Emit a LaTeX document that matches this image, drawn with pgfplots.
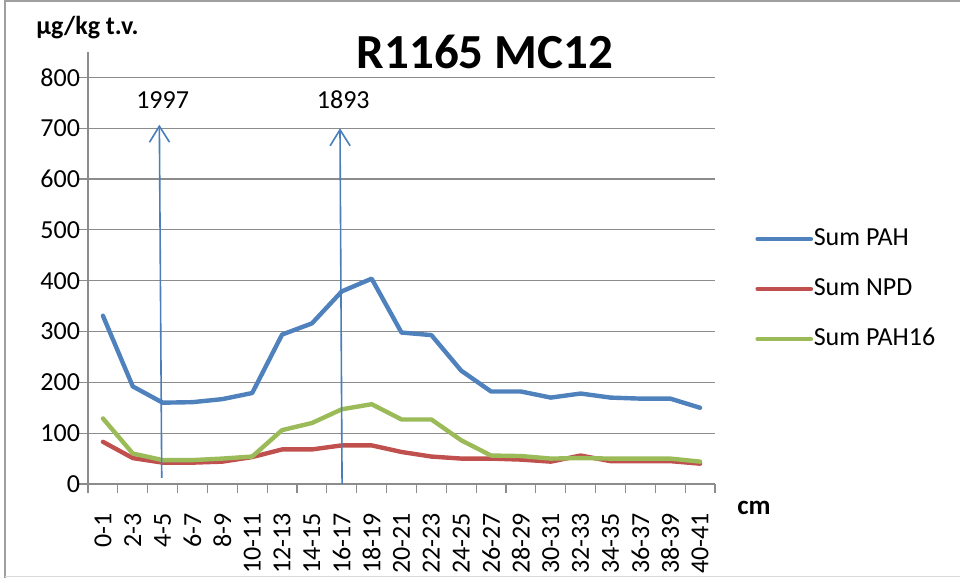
\documentclass[border=0pt]{standalone}
\usepackage{pgfplots}
\pgfplotsset{compat=1.18}
\usetikzlibrary{arrows.meta}
\usepackage{fontspec}
\setmainfont{Carlito}
\definecolor{cblue}{HTML}{4F81BD}
\definecolor{cred}{HTML}{C0504D}
\definecolor{cgreen}{HTML}{9BBB59}
\definecolor{carrow}{HTML}{4A7EBB}
\definecolor{cgrid}{HTML}{8C8C8C}
\begin{document}
\begin{tikzpicture}[x=1pt,y=1pt]
\useasboundingbox (-44,-47) rectangle (436,242);
\draw[color=gray!75, line width=1pt] (-41.5,-47) -- (-41.5,241.5) -- (436,241.5);
\draw[color=gray!30, line width=0.5pt] (-41.5,-46.3) -- (436,-46.3);
\begin{axis}[
  at={(0,0)}, anchor=south west, scale only axis,
  width=313.5pt, height=216pt,
  xmin=-0.5, xmax=20.5, ymin=0, ymax=850,
  axis x line*=bottom, axis y line*=left,
  axis line style={-, draw=cgrid, line width=0.6pt},
  ytick={0,100,...,800},
  ymajorgrids, grid style={draw=cgrid, line width=0.6pt},
  xtick={0,...,20},
  xticklabels={0-1,2-3,4-5,6-7,8-9,10-11,12-13,14-15,16-17,18-19,20-21,22-23,24-25,26-27,28-29,30-31,32-33,34-35,36-37,38-39,40-41},
  minor xtick={-0.5,0.5,...,20.5},
  major x tick style={draw=none},
  tick style={draw=cgrid, line width=0.6pt},
  tick align=outside,
  major tick length=4.5pt, minor tick length=4.5pt,
  ticklabel style={font=\fontsize{13}{15}\selectfont},
  xticklabel style={rotate=90, anchor=east, xshift=-6.5pt},
  yticklabel style={xshift=4pt},
  /pgf/number format/assume math mode=true,
  legend style={at={(1.0638,0.4514)}, anchor=west, draw=none, fill=none,
    inner sep=0pt, row sep=13pt,
    font=\fontsize{13}{15}\selectfont,
    nodes={inner sep=0pt, text height=9pt, text depth=3pt}},
  legend cell align=left,
  legend image code/.code={\draw[#1, line width=2.4pt, line cap=round] (0pt,0pt) -- (26.5pt,0pt); \path[draw=none] (0pt,0pt) -- (28pt,0pt);},
  every axis plot/.append style={line width=2.2pt, line join=round, line cap=round, mark=none},
]
\addplot[cblue] coordinates {(0,331)(1,192)(2,160)(3,161)(4,167)(5,179)(6,294)(7,316)(8,379)(9,404)(10,298)(11,293)(12,223)(13,182)(14,182)(15,170)(16,178)(17,170)(18,168)(19,168)(20,150)};
\addlegendentry{Sum PAH}
\addplot[cred] coordinates {(0,83)(1,51)(2,42)(3,42)(4,44)(5,53)(6,68)(7,68)(8,76)(9,76)(10,63)(11,54)(12,50)(13,50)(14,48)(15,44)(16,56)(17,45)(18,45)(19,45)(20,40)};
\addlegendentry{Sum NPD}
\addplot[cgreen] coordinates {(0,129)(1,60)(2,47)(3,47)(4,50)(5,54)(6,106)(7,120)(8,147)(9,157)(10,127)(11,127)(12,86)(13,56)(14,55)(15,50)(16,51)(17,50)(18,50)(19,50)(20,44)};
\addlegendentry{Sum PAH16}
\draw[carrow, line width=0.8pt, -{Straight Barb[length=8pt,width=10pt]}] (axis cs:1.97,12) -- (axis cs:1.89,707);
\draw[carrow, line width=0.8pt, -{Straight Barb[length=8pt,width=10pt]}] (axis cs:8.01,0) -- (axis cs:7.94,700);
\node[font=\fontsize{13}{15}\selectfont] at (axis cs:2.0,756) {1997};
\node[font=\fontsize{13}{15}\selectfont] at (axis cs:8.05,756) {1893};
\end{axis}
\node[font=\bfseries\fontsize{24.5}{28}\selectfont] at (198.5,216) {R1165 MC12};
\node[font=\bfseries\fontsize{13}{15}\selectfont, anchor=west, inner sep=0pt] at (-26,228) {µg/kg t.v.};
\node[font=\bfseries\fontsize{13.5}{15}\selectfont, anchor=base west, inner sep=0pt] at (324.5,-15.3) {cm};
\end{tikzpicture}
\end{document}
